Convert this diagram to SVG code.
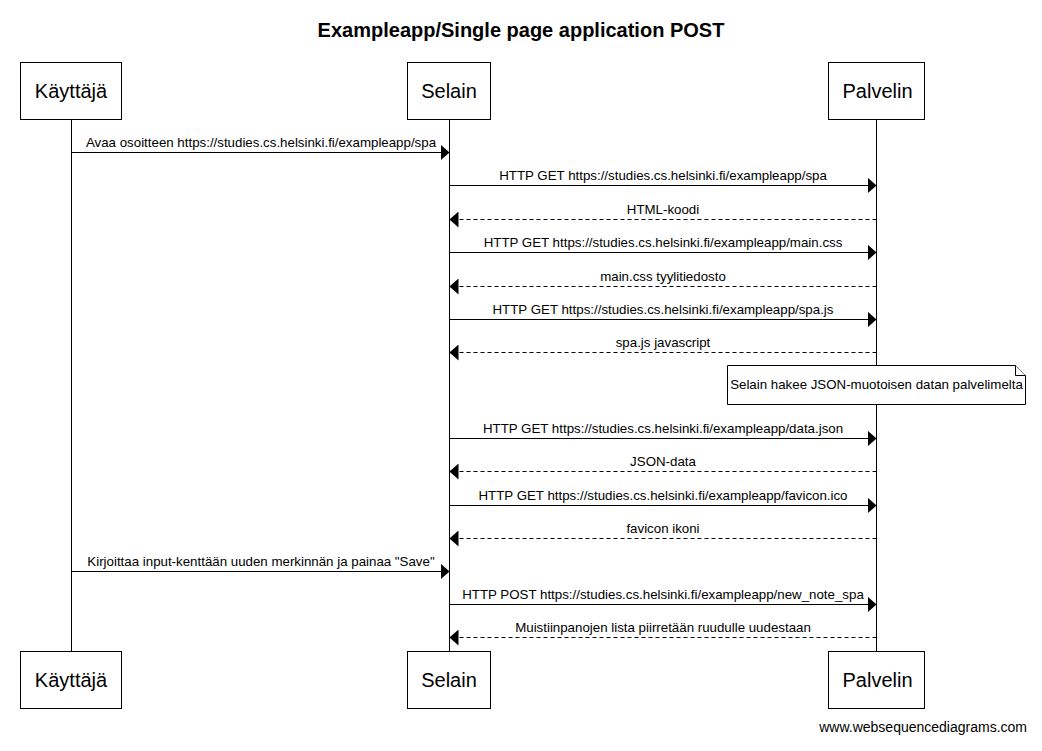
<svg xmlns="http://www.w3.org/2000/svg" width="1042" height="751" viewBox="0 0 1042 751">
<style>
.bg{fill:#fff}
.box{fill:#fff;stroke:#000;stroke-width:1}
.name{font-family:"Liberation Sans",Arial,sans-serif;font-size:20px;fill:#000;text-anchor:middle}
.life{stroke:#000;stroke-width:1;fill:none}
.msg{stroke:#000;stroke-width:1;fill:none}
.ret{stroke:#000;stroke-width:1;fill:none;stroke-dasharray:4 3}
.lbl{font-family:"Liberation Sans",Arial,sans-serif;font-size:13.3px;fill:#000;text-anchor:middle}
.title{font-family:"Liberation Sans",Arial,sans-serif;font-size:20px;font-weight:bold;fill:#000;text-anchor:middle}
.foot{font-family:"Liberation Sans",Arial,sans-serif;font-size:14px;fill:#000;text-anchor:end}
.head{fill:#000;stroke:none}
</style>
<defs>
<marker id="ah" viewBox="0 0 9 16" refX="9" refY="8" markerWidth="9" markerHeight="16" markerUnits="userSpaceOnUse" orient="auto"><path class="head" d="M0,0 L9,8 L0,16 Z"/></marker>
</defs>
<rect class="bg" x="0" y="0" width="1042" height="751"/>
<text class="title" x="521" y="37">Exampleapp/Single page application POST</text>
<g id="lifelines">
<line class="life" x1="71.5" y1="119.5" x2="71.5" y2="651.5"/>
<line class="life" x1="449.5" y1="119.5" x2="449.5" y2="651.5"/>
<line class="life" x1="876.5" y1="119.5" x2="876.5" y2="651.5"/>
</g>
<g id="kayttaja">
<rect class="box" x="20.5" y="62.5" width="101" height="57"/>
<text class="name" x="71" y="98">Käyttäjä</text>
<rect class="box" x="20.5" y="651.5" width="101" height="57"/>
<text class="name" x="71" y="687">Käyttäjä</text>
</g>
<g id="selain">
<rect class="box" x="407.5" y="62.5" width="83" height="57"/>
<text class="name" x="449" y="98">Selain</text>
<rect class="box" x="407.5" y="651.5" width="83" height="57"/>
<text class="name" x="449" y="687">Selain</text>
</g>
<g id="palvelin">
<rect class="box" x="828.5" y="62.5" width="96" height="57"/>
<text class="name" x="877.5" y="98">Palvelin</text>
<rect class="box" x="828.5" y="651.5" width="96" height="57"/>
<text class="name" x="877.5" y="687">Palvelin</text>
</g>
<g id="note">
<path class="box" d="M727.5,365.5 L1015.5,365.5 L1025.5,375.5 L1025.5,404.5 L727.5,404.5 Z"/>
<path class="box" d="M1015.5,365.5 L1015.5,375.5 L1025.5,375.5" fill="none"/>
<text class="lbl" x="876.5" y="389">Selain hakee JSON-muotoisen datan palvelimelta</text>
</g>
<g id="connectors">
<line class="msg" x1="71.5" y1="152.5" x2="449.5" y2="152.5" marker-end="url(#ah)"/>
<text class="lbl" x="261" y="147">Avaa osoitteen https://studies.cs.helsinki.fi/exampleapp/spa</text>
<line class="msg" x1="449.5" y1="185.5" x2="876.5" y2="185.5" marker-end="url(#ah)"/>
<text class="lbl" x="663" y="180">HTTP GET https://studies.cs.helsinki.fi/exampleapp/spa</text>
<line class="ret" x1="876.5" y1="219.5" x2="449.5" y2="219.5" marker-end="url(#ah)"/>
<text class="lbl" x="663" y="214">HTML-koodi</text>
<line class="msg" x1="449.5" y1="252.5" x2="876.5" y2="252.5" marker-end="url(#ah)"/>
<text class="lbl" x="663" y="247">HTTP GET https://studies.cs.helsinki.fi/exampleapp/main.css</text>
<line class="ret" x1="876.5" y1="286.5" x2="449.5" y2="286.5" marker-end="url(#ah)"/>
<text class="lbl" x="663" y="281">main.css tyylitiedosto</text>
<line class="msg" x1="449.5" y1="319.5" x2="876.5" y2="319.5" marker-end="url(#ah)"/>
<text class="lbl" x="663" y="314">HTTP GET https://studies.cs.helsinki.fi/exampleapp/spa.js</text>
<line class="ret" x1="876.5" y1="352.5" x2="449.5" y2="352.5" marker-end="url(#ah)"/>
<text class="lbl" x="663" y="347">spa.js javascript</text>
<line class="msg" x1="449.5" y1="438.5" x2="876.5" y2="438.5" marker-end="url(#ah)"/>
<text class="lbl" x="663" y="433">HTTP GET https://studies.cs.helsinki.fi/exampleapp/data.json</text>
<line class="ret" x1="876.5" y1="471.5" x2="449.5" y2="471.5" marker-end="url(#ah)"/>
<text class="lbl" x="663" y="466">JSON-data</text>
<line class="msg" x1="449.5" y1="505.5" x2="876.5" y2="505.5" marker-end="url(#ah)"/>
<text class="lbl" x="663" y="500">HTTP GET https://studies.cs.helsinki.fi/exampleapp/favicon.ico</text>
<line class="ret" x1="876.5" y1="538.5" x2="449.5" y2="538.5" marker-end="url(#ah)"/>
<text class="lbl" x="663" y="533">favicon ikoni</text>
<line class="msg" x1="71.5" y1="571.5" x2="449.5" y2="571.5" marker-end="url(#ah)"/>
<text class="lbl" x="261" y="566">Kirjoittaa input-kenttään uuden merkinnän ja painaa "Save"</text>
<line class="msg" x1="449.5" y1="604.5" x2="876.5" y2="604.5" marker-end="url(#ah)"/>
<text class="lbl" x="663" y="599">HTTP POST https://studies.cs.helsinki.fi/exampleapp/new_note_spa</text>
<line class="ret" x1="876.5" y1="637.5" x2="449.5" y2="637.5" marker-end="url(#ah)"/>
<text class="lbl" x="663" y="632">Muistiinpanojen lista piirretään ruudulle uudestaan</text>
</g>
<text class="foot" x="1027" y="732">www.websequencediagrams.com</text>
</svg>
